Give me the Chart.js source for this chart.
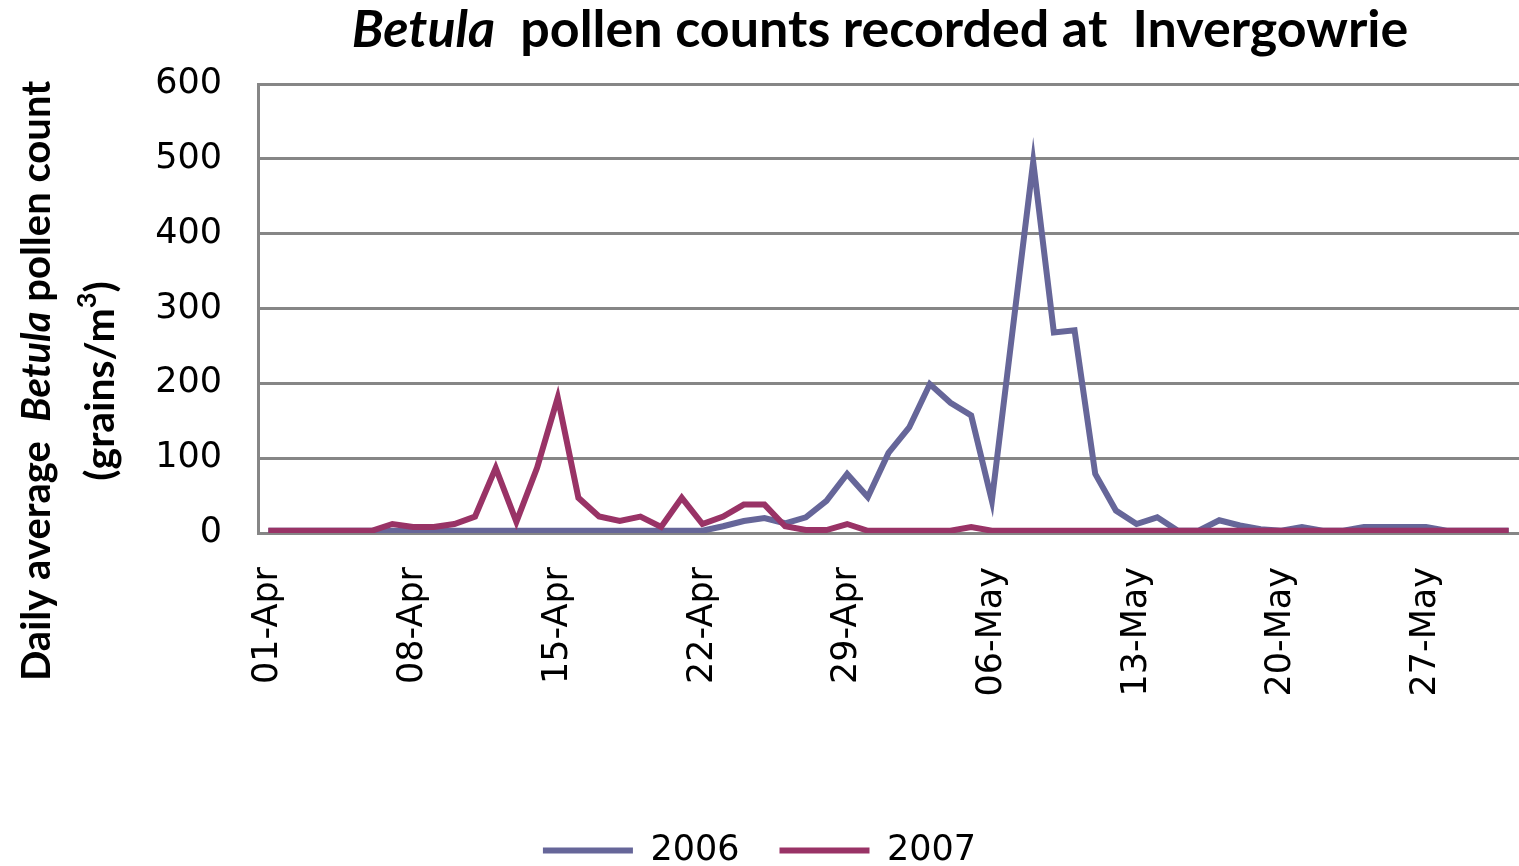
<!DOCTYPE html>
<html>
<head>
<meta charset="utf-8">
<script src="https://cdn.jsdelivr.net/npm/chart.js@4"></script>
<style>
html, body { margin: 0; padding: 0; background: #fff; }
#wrap { width: 1519px; height: 866px; }
</style>
</head>
<body>
<div id="wrap"><canvas id="chart"></canvas></div>
<script>
const days = [
	'01-Apr', '02-Apr', '03-Apr', '04-Apr', '05-Apr', '06-Apr', '07-Apr', '08-Apr', '09-Apr', '10-Apr',
	'11-Apr', '12-Apr', '13-Apr', '14-Apr', '15-Apr', '16-Apr', '17-Apr', '18-Apr', '19-Apr', '20-Apr',
	'21-Apr', '22-Apr', '23-Apr', '24-Apr', '25-Apr', '26-Apr', '27-Apr', '28-Apr', '29-Apr', '30-Apr',
	'01-May', '02-May', '03-May', '04-May', '05-May', '06-May', '07-May', '08-May', '09-May', '10-May',
	'11-May', '12-May', '13-May', '14-May', '15-May', '16-May', '17-May', '18-May', '19-May', '20-May',
	'21-May', '22-May', '23-May', '24-May', '25-May', '26-May', '27-May', '28-May', '29-May', '30-May',
	'31-May'
];

const counts2006 = [
	3, 3, 3, 3, 3, 3, 3, 3, 3, 3,
	3, 3, 3, 3, 3, 3, 3, 3, 3, 3,
	3, 3, 9, 16, 20, 13, 21, 43, 79, 48,
	107, 141, 199, 174, 157, 43, 270, 496, 268, 271,
	79, 30, 12, 21, 3, 3, 17, 10, 5, 3,
	8, 3, 3, 8, 8, 8, 8, 3, 3, 3,
	3
];

const counts2007 = [
	3, 3, 3, 3, 3, 3, 12, 8, 8, 12,
	22, 87, 15, 87, 181, 47, 22, 16, 22, 8,
	47, 12, 22, 38, 38, 9, 4, 4, 12, 3,
	3, 3, 3, 3, 8, 3, 3, 3, 3, 3,
	3, 3, 3, 3, 3, 3, 3, 3, 3, 3,
	3, 3, 3, 3, 3, 3, 3, 3, 3, 3,
	3
];

const yTicks = [0, 100, 200, 300, 400, 500, 600];

const tickFont = { family: 'DejaVu Sans', size: 35 };
const gridColor = '#868686';

// draws a line of text made of runs (plain / italic / superscript), centred on x
const drawRuns = (ctx, runs, x, y) => {
	const widths = runs.map((r) => {
		ctx.font = `${r.italic ? 'italic ' : ''}bold ${r.size}px Lato`;
		return ctx.measureText(r.text).width;
	});
	let cx = x - widths.reduce((a, b) => a + b, 0) / 2;
	runs.forEach((r, i) => {
		ctx.font = `${r.italic ? 'italic ' : ''}bold ${r.size}px Lato`;
		ctx.fillText(r.text, cx, y - (r.rise || 0));
		cx += widths[i];
	});
};

const titles = {
	id: 'titles',
	afterDraw(chart) {
		const ctx = chart.ctx;
		ctx.save();
		ctx.fillStyle = '#000';
		ctx.textAlign = 'left';
		ctx.textBaseline = 'alphabetic';

		drawRuns(ctx, [
			{ text: 'Betula', italic: true, size: 52 },
			{ text: '  pollen counts recorded at  Invergowrie', size: 52 }
		], 880, 47);

		ctx.translate(0, 381);
		ctx.rotate(-Math.PI / 2);
		drawRuns(ctx, [
			{ text: 'Daily average  ', size: 40 },
			{ text: 'Betula', italic: true, size: 40 },
			{ text: ' pollen count', size: 40 }
		], 0, 50);
		drawRuns(ctx, [
			{ text: '(grains/m', size: 41 },
			{ text: '3', size: 27, rise: 18 },
			{ text: ')', size: 41 }
		], 0, 114);
		ctx.restore();
	}
};

new Chart(document.getElementById('chart'), {
	type: 'line',
	data: {
		labels: days,
		datasets: [
			{
				label: '2006',
				data: counts2006,
				borderColor: '#666699',
				backgroundColor: '#666699',
				borderWidth: 6,
				pointRadius: 0,
				tension: 0,
				fill: false,
				order: 1
			},
			{
				label: '2007',
				data: counts2007,
				borderColor: '#993366',
				backgroundColor: '#993366',
				borderWidth: 6,
				pointRadius: 0,
				tension: 0,
				fill: false,
				order: 0
			}
		]
	},
	options: {
		responsive: true,
		maintainAspectRatio: false,
		animation: false,
		layout: {
			padding: { top: 84, left: 0, right: 0, bottom: -12 }
		},
		plugins: {
			title: { display: false },
			tooltip: { enabled: false },
			legend: {
				position: 'bottom',
				labels: {
					color: '#000',
					font: tickFont,
					boxWidth: 90,
					boxHeight: 6,
					padding: 40,
					sort: (a, b) => a.datasetIndex - b.datasetIndex,
					generateLabels: (chart) => Chart.defaults.plugins.legend.labels.generateLabels(chart)
						.map((l) => Object.assign(l, { lineWidth: 0 }))
				}
			}
		},
		scales: {
			x: {
				offset: true,
				grid: { display: false },
				border: { display: true, color: gridColor, width: 3 },
				ticks: {
					color: '#000',
					font: tickFont,
					autoSkip: false,
					minRotation: 90,
					maxRotation: 90,
					padding: 26,
					callback: (v, i) => (i % 7 === 0 ? days[i] : '')
				},
				afterFit: (s) => {
					s.height = 260;
					s.paddingLeft = 0;
					s.paddingRight = 0;
				}
			},
			y: {
				min: 0,
				max: 600,
				afterBuildTicks: (s) => { s.ticks = yTicks.map((v) => ({ value: v })); },
				grid: { color: gridColor, lineWidth: 3, drawTicks: false },
				border: { display: true, color: gridColor, width: 3 },
				ticks: {
					color: '#000',
					font: tickFont,
					padding: 36
				},
				afterFit: (s) => { s.width = 258; }
			}
		}
	},
	plugins: [titles]
});
</script>
</body>
</html>
